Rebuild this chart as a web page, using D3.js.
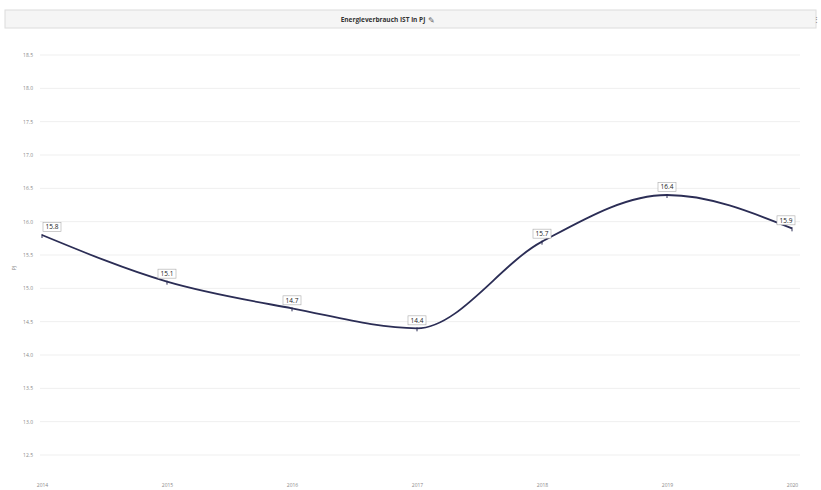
<!DOCTYPE html>
<html><head><meta charset="utf-8">
<script src="https://cdn.jsdelivr.net/npm/d3@7"></script>
<style>body{margin:0;background:#fff;font-family:"Open Sans",Arial,sans-serif}</style>
</head><body><svg id="c" width="821" height="490"></svg>
<script>
const title = "Energieverbrauch IST in PJ";
const years = ["2014","2015","2016","2017","2018","2019","2020"];
const values = [15.8, 15.1, 14.7, 14.4, 15.7, 16.4, 15.9];
const yTicks = [12.5,13.0,13.5,14.0,14.5,15.0,15.5,16.0,16.5,17.0,17.5,18.0,18.5];
const yUnit = "PJ";

const svg = d3.select("#c");
// header bar
svg.append("rect").attr("x",5).attr("y",10).attr("width",811).attr("height",18)
  .attr("fill","#f5f5f5").attr("stroke","#dcdcdc").attr("stroke-width",1);
svg.append("text").attr("x",383).attr("y",22).attr("text-anchor","middle")
  .attr("font-size",6.5).attr("font-weight","bold").attr("fill","#333").text(title);
svg.append("text").attr("x",428).attr("y",22.5).attr("font-size",8).attr("fill","#666").text("\u270E");
svg.append("text").attr("x",813).attr("y",22).attr("font-size",7).attr("fill","#777").text("\u22EE");

const x = d3.scalePoint().domain(years).range([42,792]);
const y = d3.scaleLinear().domain([12.5,18.5]).range([455,55]);

// grid
svg.append("g").selectAll("line").data(yTicks).join("line")
  .attr("x1",40).attr("x2",800).attr("y1",d=>y(d)).attr("y2",d=>y(d))
  .attr("stroke","#efefef").attr("stroke-width",1);

// y axis labels
const ya = svg.append("g").attr("transform","translate(36,0)")
  .call(d3.axisLeft(y).tickValues(yTicks).tickSize(0).tickFormat(d3.format(".1f")));
ya.select(".domain").remove();
ya.selectAll("text").attr("font-size",5).attr("fill","#888").attr("font-family","Open Sans, Arial");

svg.append("text").attr("transform","translate(16,268) rotate(-90)").attr("text-anchor","middle")
  .attr("font-size",5).attr("fill","#888").text(yUnit);

// x axis labels
const xa = svg.append("g").attr("transform","translate(0,480)")
  .call(d3.axisBottom(x).tickSize(0));
xa.select(".domain").remove();
xa.selectAll("text").attr("font-size",5).attr("fill","#888").attr("font-family","Open Sans, Arial");

// line
const data = years.map((yr,i)=>({yr, v:values[i]}));
svg.append("path").datum(data)
  .attr("d", d3.line().x(d=>x(d.yr)).y(d=>y(d.v)).curve(d3.curveMonotoneX))
  .attr("fill","none").attr("stroke","#2b2d55").attr("stroke-width",1.8);

// markers
svg.append("g").selectAll("line").data(data).join("line")
  .attr("x1",d=>x(d.yr)).attr("x2",d=>x(d.yr))
  .attr("y1",d=>y(d.v)-1).attr("y2",d=>y(d.v)+3)
  .attr("stroke","#2b2d55").attr("stroke-width",1);

// labels
const lg = svg.append("g").selectAll("g").data(data).join("g")
  .attr("transform",(d,i)=>{
    let cx = x(d.yr);
    if(i===0) cx += 10;
    if(i===data.length-1) cx -= 6;
    return `translate(${cx},${y(d.v)-8})`;
  });
lg.append("rect").attr("x",-9).attr("y",-4.5).attr("width",18).attr("height",9)
  .attr("fill","#fff").attr("stroke","#aaa").attr("stroke-width",0.6);
lg.append("text").attr("text-anchor","middle").attr("y",2.2)
  .attr("font-size",6.5).attr("fill","#222").text(d=>d.v.toFixed(1));
</script></body></html>
